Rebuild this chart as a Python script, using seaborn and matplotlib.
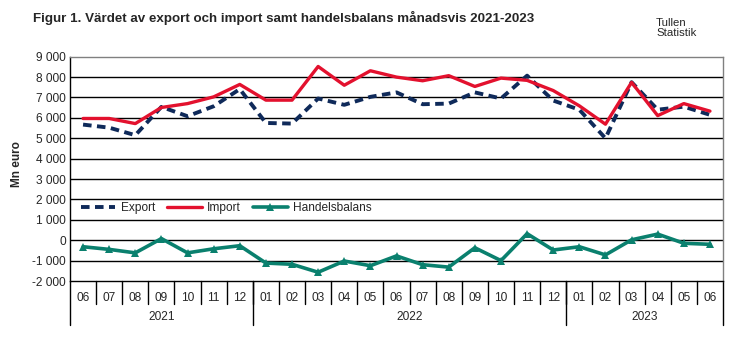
import matplotlib
matplotlib.use("Agg")
import matplotlib.pyplot as plt
import matplotlib.transforms as mtransforms
import seaborn as sns
import numpy as np
import pandas as pd

months = ["06", "07", "08", "09", "10", "11", "12",
          "01", "02", "03", "04", "05", "06", "07", "08", "09", "10", "11", "12",
          "01", "02", "03", "04", "05", "06"]
years = ["2021", "2022", "2023"]
year_counts = [7, 12, 6]

export = [5670, 5520, 5150, 6540, 6080, 6570, 7410,
          5750, 5720, 6950, 6640, 7030, 7250, 6670, 6700, 7250, 6950, 8070, 6850,
          6400, 5000, 7750, 6400, 6550, 6150]
imports = [5970, 5970, 5720, 6510, 6700, 7030, 7640,
           6870, 6870, 8520, 7600, 8310, 8000, 7820, 8070, 7540, 7950, 7840, 7340,
           6590, 5690, 7740, 6110, 6700, 6330]
balance = [-320, -450, -620, 80, -620, -420, -270,
           -1120, -1180, -1570, -1020, -1250, -770, -1200, -1320, -370, -1000, 320, -480,
           -320, -720, 20, 300, -150, -200]

sns.set_theme(style="white")
plt.rcParams['font.family'] = ['Liberation Sans', 'DejaVu Sans']

df = pd.DataFrame({"idx": np.arange(len(months)), "Export": export,
                   "Import": imports, "Handelsbalans": balance})

fig = plt.figure(figsize=(7.56, 3.4), dpi=100)
ax = fig.add_axes([70/756, 1 - 281/340, (723-70)/756, (281-56.7)/340])

sns.lineplot(data=df, x="idx", y="Export", ax=ax, color="#0F2A5A", lw=2.8,
             linestyle=(0, (2.2, 1.4)), label="Export")
sns.lineplot(data=df, x="idx", y="Import", ax=ax, color="#E3112E", lw=2.4, label="Import")
sns.lineplot(data=df, x="idx", y="Handelsbalans", ax=ax, color="#0A806E", lw=2.6,
             marker="^", markersize=6, markeredgewidth=0, label="Handelsbalans")

ax.set_xlim(-0.5, len(months) - 0.5)
ax.set_ylim(-2000, 9000)
yt = np.arange(-2000, 9001, 1000)
ax.set_yticks(yt)
ax.set_yticklabels([f"{v:,}".replace(",", " ") for v in yt], fontsize=8.6)
for v in yt[1:-1]:
    ax.axhline(v, color="black", lw=1, zorder=0)

ax.set_xticks(np.arange(len(months)))
ax.set_xticklabels(months, fontsize=8.6)
ax.tick_params(axis="x", length=0, pad=8)
ax.tick_params(axis="y", length=0, pad=3)
ax.set_xlabel("")
ax.set_ylabel("Mn euro", fontsize=8.6, fontweight="bold")
ax.yaxis.set_label_coords(-47/653, 0.52)

for s in ["top", "right"]:
    ax.spines[s].set_color("#808080")
    ax.spines[s].set_linewidth(1)
for s in ["left", "bottom"]:
    ax.spines[s].set_color("black")
    ax.spines[s].set_linewidth(1)

trans = mtransforms.blended_transform_factory(ax.transData, ax.transAxes)
# category separators
for i in range(len(months) - 1):
    ax.plot([i + 0.5, i + 0.5], [0, -23/224.3], transform=trans, color="black",
            lw=1, clip_on=False)
# year separators and labels
start = 0
bounds = [-0.5]
for y, c in zip(years, year_counts):
    end = start + c
    bounds.append(end - 0.5)
    ax.text((start + end - 1) / 2, -36/224.3, y, transform=trans, ha="center",
            va="center", fontsize=8.6)
    start = end
for b in bounds:
    ax.plot([b, b], [0, -44/224.3], transform=trans, color="black", lw=1, clip_on=False)

leg = ax.legend(loc="center left", bbox_to_anchor=(0.0, 0.325), ncol=3, frameon=False,
                fontsize=8.6, handlelength=2.9, columnspacing=1.0, handletextpad=0.45)

fig.text(33/756, 1 - 18/340, "Figur 1. Värdet av export och import samt handelsbalans månadsvis 2021-2023",
         fontsize=9.6, fontweight="bold", va="center", ha="left")
fig.text(656/756, 1 - 28/340, "Tullen\nStatistik", fontsize=8.2, va="center", ha="left",
         linespacing=1.0)

fig.savefig("out.png", dpi=100)
